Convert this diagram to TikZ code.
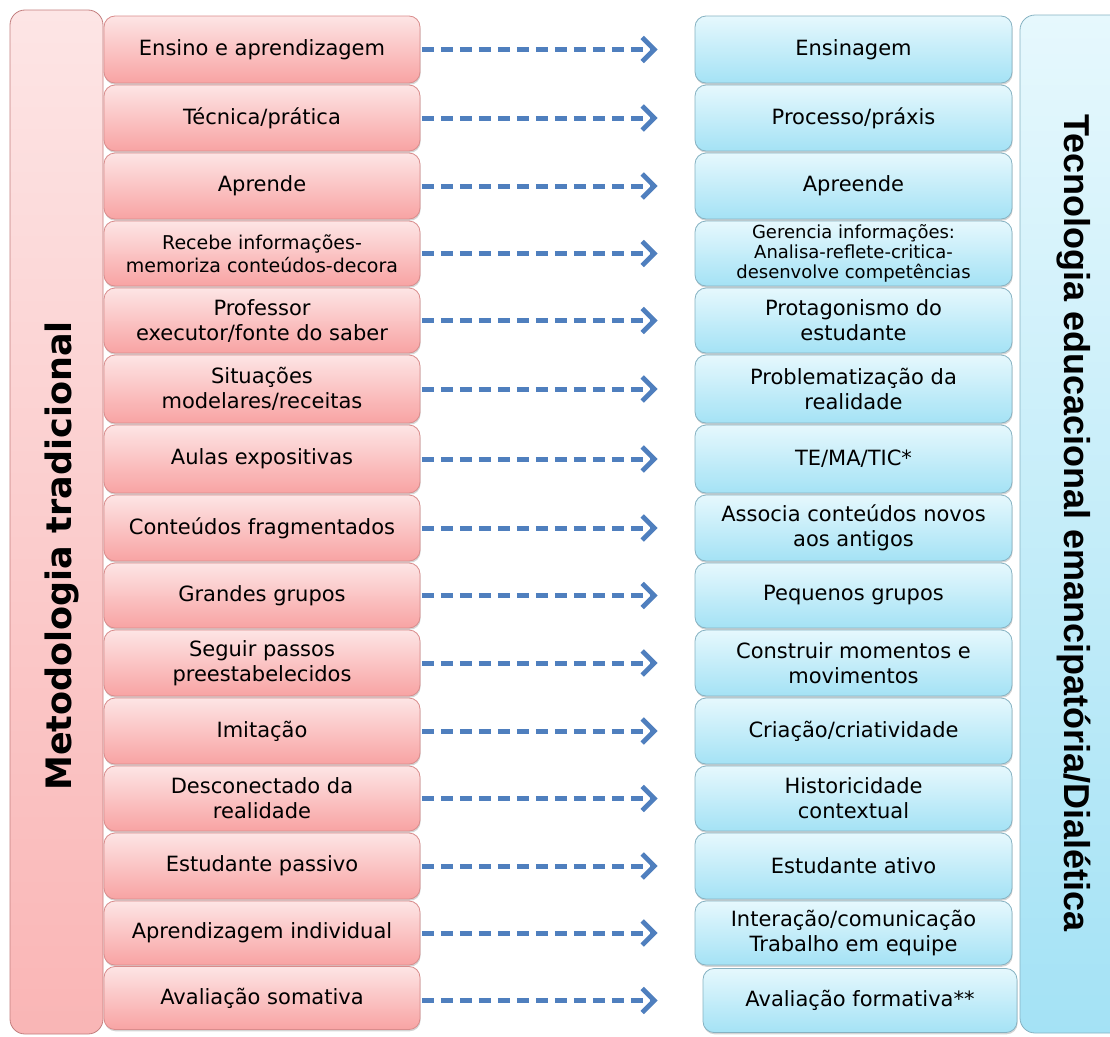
\documentclass[tikz,border=0pt]{standalone}
\usepackage{fontspec}
\setmainfont{DejaVu Sans}
\newfontfamily\titlefont{Liberation Sans}
\usetikzlibrary{arrows.meta,shadows}

\definecolor{pinkTop}{HTML}{FDE5E5}
\definecolor{pinkBot}{HTML}{F8A3A3}
\definecolor{pinkLine}{HTML}{D98C8C}
\definecolor{blueTop}{HTML}{E6F8FD}
\definecolor{blueBot}{HTML}{A4E2F5}
\definecolor{blueLine}{HTML}{86B2C2}
\definecolor{arrowBlue}{HTML}{4F7FBE}

\tikzset{
  boxbase/.style={rounded corners=11pt, line width=0.8pt, align=center,
    inner sep=1pt, font=\fontsize{21}{25}\selectfont,
    drop shadow={shadow xshift=0.6pt, shadow yshift=-1.8pt, opacity=0.28, fill=black!60}},
  oldbox/.style={boxbase, draw=pinkLine, top color=pinkTop, bottom color=pinkBot,
    minimum width=316pt},
  newbox/.style={boxbase, draw=blueLine, top color=blueTop, bottom color=blueBot,
    minimum width=317pt},
  smalltext/.style={font=\fontsize{19}{23}\selectfont},
  tinytext/.style={font=\fontsize{18}{20}\selectfont},
  flow/.style={draw=arrowBlue, line width=5pt, dash pattern=on 12pt off 7pt,
    -{Straight Barb[length=12pt,width=24pt,line width=4.8pt]},
    shorten <=1.5pt, shorten >=37pt},
}

\begin{document}
\begin{tikzpicture}[x=1pt,y=-1pt]
\useasboundingbox (0,0) rectangle (1110,1036);

% the two side bands
\node[draw=pinkLine!90!black, line width=0.8pt, rounded corners=15pt,
      top color=pinkTop, bottom color=pinkBot!80!white,
      minimum width=93pt, minimum height=1024pt] (oldband) at (56.5,522) {};
\node[draw=blueLine, line width=0.8pt, rounded corners=15pt,
      top color=blueTop, bottom color=blueBot,
      minimum width=105pt, minimum height=1018pt] (newband) at (1072.5,524) {};
\node[rotate=90, font=\bfseries\fontsize{35}{36}\selectfont]
      (oldtitle) at (62,556) {Metodologia tradicional};
\node[rotate=-90, font=\titlefont\bfseries\fontsize{36}{37}\selectfont]
      (newtitle) at (1074,523) {Tecnologia educacional emancipatória/Dialética};

% traditional column
\node[oldbox, minimum height=67pt] (L1)  at (262,49.5) {Ensino e aprendizagem};
\node[oldbox, minimum height=66pt] (L2)  at (262,118)  {Técnica/prática};
\node[oldbox, minimum height=66pt] (L3)  at (262,186)  {Aprende};
\node[oldbox, minimum height=65pt, smalltext] (L4) at (262,253.5) {Recebe informações-\\memoriza conteúdos-decora};
\node[oldbox, minimum height=65pt] (L5)  at (262,320.5) {Professor\\executor/fonte do saber};
\node[oldbox, minimum height=68pt] (L6)  at (262,389)  {Situações\\modelares/receitas};
\node[oldbox, minimum height=68pt] (L7)  at (262,459)  {Aulas expositivas};
\node[oldbox, minimum height=66pt] (L8)  at (262,528)  {Conteúdos fragmentados};
\node[oldbox, minimum height=65pt] (L9)  at (262,595.5) {Grandes grupos};
\node[oldbox, minimum height=66pt] (L10) at (262,663)  {Seguir passos\\preestabelecidos};
\node[oldbox, minimum height=66pt] (L11) at (262,731)  {Imitação};
\node[oldbox, minimum height=65pt] (L12) at (262,798.5) {Desconectado da\\realidade};
\node[oldbox, minimum height=66pt] (L13) at (262,866)  {Estudante passivo};
\node[oldbox, minimum height=64pt] (L14) at (262,933)  {Aprendizagem individual};
\node[oldbox, minimum height=63pt] (L15) at (262,998)  {Avaliação somativa};

% emancipatory column
\node[newbox, minimum height=67pt] (R1)  at (853.5,49.5) {Ensinagem};
\node[newbox, minimum height=66pt] (R2)  at (853.5,118)  {Processo/práxis};
\node[newbox, minimum height=66pt] (R3)  at (853.5,186)  {Apreende};
\node[newbox, minimum height=65pt, tinytext] (R4) at (853.5,253.5) {Gerencia informações:\\Analisa-reflete-critica-\\desenvolve competências};
\node[newbox, minimum height=65pt] (R5)  at (853.5,320.5) {Protagonismo do\\estudante};
\node[newbox, minimum height=68pt] (R6)  at (853.5,389)  {Problematização da\\realidade};
\node[newbox, minimum height=68pt] (R7)  at (853.5,459)  {TE/MA/TIC*};
\node[newbox, minimum height=66pt] (R8)  at (853.5,528)  {Associa conteúdos novos\\aos antigos};
\node[newbox, minimum height=65pt] (R9)  at (853.5,595.5) {Pequenos grupos};
\node[newbox, minimum height=66pt] (R10) at (853.5,663)  {Construir momentos e\\movimentos};
\node[newbox, minimum height=66pt] (R11) at (853.5,731)  {Criação/criatividade};
\node[newbox, minimum height=65pt] (R12) at (853.5,798.5) {Historicidade\\contextual};
\node[newbox, minimum height=66pt] (R13) at (853.5,866)  {Estudante ativo};
\node[newbox, minimum height=64pt] (R14) at (853.5,933)  {Interação/comunicação\\Trabalho em equipe};
\node[newbox, minimum height=64pt, minimum width=314pt] (R15) at (860,1000.5) {Avaliação formativa**};

% dashed correspondences
\foreach \i in {1,...,14}{
  \draw[flow] (L\i.east) -- (R\i.west);
}
\draw[flow, shorten >=45pt] (L15.east |- R15.west) -- (R15.west);
\end{tikzpicture}
\end{document}
